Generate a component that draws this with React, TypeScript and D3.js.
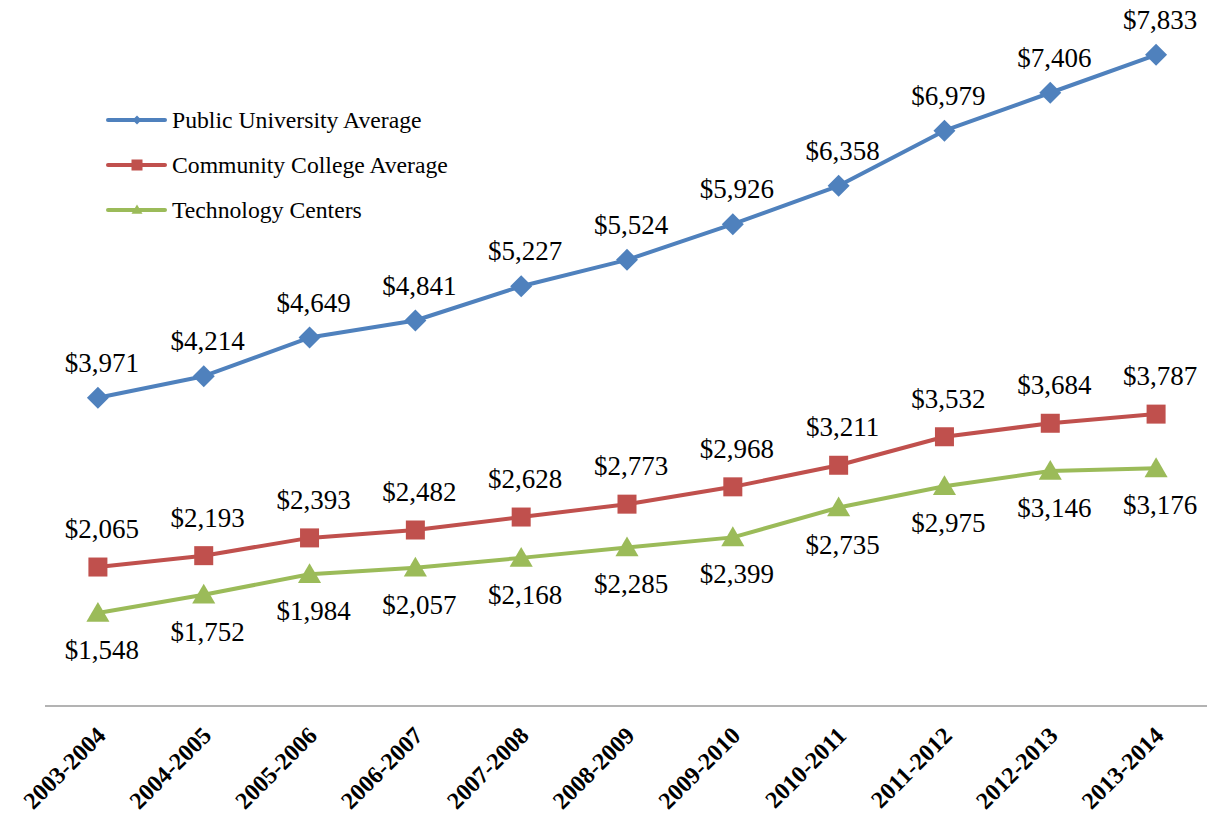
import React from "react";
import * as d3 from "d3";

const years = ["2003-2004","2004-2005","2005-2006","2006-2007","2007-2008","2008-2009","2009-2010","2010-2011","2011-2012","2012-2013","2013-2014"];
const publicUniversity = [3971,4214,4649,4841,5227,5524,5926,6358,6979,7406,7833];
const communityCollege = [2065,2193,2393,2482,2628,2773,2968,3211,3532,3684,3787];
const technologyCenters = [1548,1752,1984,2057,2168,2285,2399,2735,2975,3146,3176];
const seriesNames = ["Public University Average","Community College Average","Technology Centers"];
const seriesColors = ["#4F81BD","#C0504D","#9BBB59"];

const W = 1207, H = 825;
const FONT = '"Liberation Serif", "Times New Roman", "DejaVu Serif", serif';

function Marker({ kind, x, y, color }: { kind: number; x: number; y: number; color: string }) {
  if (kind === 0) {
    const s = 11;
    return <path d={`M${x},${y - s}L${x + s},${y}L${x},${y + s}L${x - s},${y}Z`} fill={color} />;
  }
  if (kind === 1) {
    const s = 9.5;
    return <rect x={x - s} y={y - s} width={2 * s} height={2 * s} fill={color} />;
  }
  const s = 11;
  return <path d={`M${x},${y - s}L${x + s * 1.05},${y + s * 0.8}L${x - s * 1.05},${y + s * 0.8}Z`} fill={color} />;
}

function LegendMarker({ kind, x, y, color }: { kind: number; x: number; y: number; color: string }) {
  if (kind === 0) {
    const s = 4.5;
    return <path d={`M${x},${y - s}L${x + s},${y}L${x},${y + s}L${x - s},${y}Z`} fill={color} />;
  }
  if (kind === 1) {
    const s = 5.5;
    return <rect x={x - s} y={y - s} width={2 * s} height={2 * s} fill={color} />;
  }
  const s = 5.5;
  return <path d={`M${x},${y - s}L${x + s},${y + s * 0.7}L${x - s},${y + s * 0.7}Z`} fill={color} />;
}

export default function App() {
  const x = d3.scaleBand<string>().domain(years).range([45, 1209]);
  const cx = (d: string) => (x(d) as number) + x.bandwidth() / 2;
  const y = d3.scaleLinear().domain([500, 8000]).range([706, 40]);
  const fmt = (v: number) => "$" + d3.format(",")(v);
  const series = [publicUniversity, communityCollege, technologyCenters];
  const labelOffsets = [-26, -29, 46];
  const line = d3.line<number>().x((_, i) => cx(years[i])).y((v) => y(v));
  const ts = { fontFamily: FONT };

  return (
    <svg width={W} height={H} style={{ position: "absolute", left: 0, top: 0, background: "#fff" }}>
      <rect width={W} height={H} fill="#fff" />
      <line x1={45} x2={1207} y1={706} y2={706} stroke="#9a9a9a" strokeWidth={1.5} />
      {years.map((yr) => (
        <text key={yr} style={ts} transform={`translate(${cx(yr) + 9},${737}) rotate(-45)`} textAnchor="end" fontSize={24} fontWeight="bold" fill="#000">
          {yr}
        </text>
      ))}
      {series.map((vals, si) => (
        <g key={si}>
          <path d={line(vals) || ""} fill="none" stroke={seriesColors[si]} strokeWidth={4} strokeLinejoin="round" />
          {vals.map((v, i) => (
            <Marker key={i} kind={si} x={cx(years[i])} y={y(v)} color={seriesColors[si]} />
          ))}
          {vals.map((v, i) => (
            <text key={"t" + i} style={ts} x={cx(years[i]) + 4} y={y(v) + labelOffsets[si]} textAnchor="middle" fontSize={27} fill="#000">
              {fmt(v)}
            </text>
          ))}
        </g>
      ))}
      {seriesNames.map((n, i) => (
        <g key={n}>
          <line x1={108} x2={165} y1={120 + i * 45} y2={120 + i * 45} stroke={seriesColors[i]} strokeWidth={4} strokeLinecap="round" />
          <LegendMarker kind={i} x={137} y={120 + i * 45} color={seriesColors[i]} />
          <text x={172} y={128 + i * 45} style={ts} fontSize={23.7} fill="#000">{n}</text>
        </g>
      ))}
    </svg>
  );
}
